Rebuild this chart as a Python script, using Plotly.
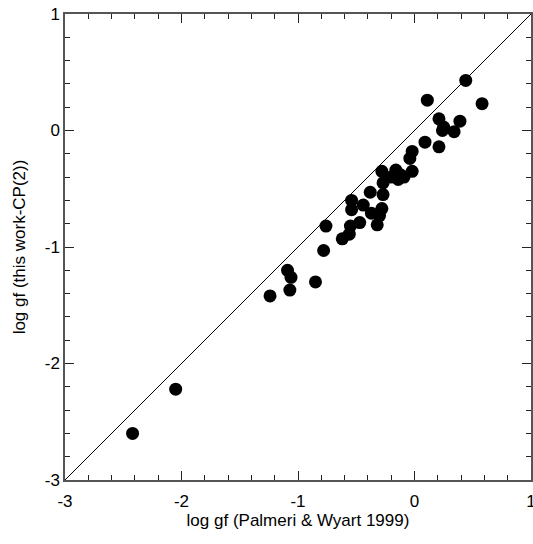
import plotly.graph_objects as go

palmeri_loggf = [-2.42, -2.05, -1.24, -1.09, -1.06, -1.07, -0.85, -0.78, -0.76, -0.62,
                 -0.56, -0.55, -0.47, -0.32, -0.54, -0.54, -0.44, -0.37, -0.28, -0.30,
                 -0.38, -0.27, -0.27, -0.28, -0.16, -0.14, -0.09, -0.02, -0.04, -0.02,
                 0.09, 0.21, 0.21, 0.25, 0.24, 0.34, 0.39, 0.44, 0.58, 0.11, -0.12, -0.20]
thiswork_loggf = [-2.60, -2.22, -1.42, -1.20, -1.26, -1.37, -1.30, -1.03, -0.82, -0.93,
                  -0.89, -0.82, -0.79, -0.81, -0.60, -0.68, -0.64, -0.71, -0.67, -0.73,
                  -0.53, -0.55, -0.45, -0.35, -0.34, -0.42, -0.40, -0.35, -0.24, -0.18,
                  -0.10, -0.14, 0.10, 0.03, 0.00, -0.01, 0.08, 0.43, 0.23, 0.26, -0.38, -0.40]
diag = [-3, 1]
tick_vals = [-3, -2, -1, 0, 1]

fig = go.Figure()
fig.add_trace(go.Scatter(x=diag, y=diag, mode="lines",
                         line=dict(color="black", width=1), hoverinfo="skip"))
fig.add_trace(go.Scatter(x=palmeri_loggf, y=thiswork_loggf, mode="markers",
                         marker=dict(color="black", size=13)))

axis_common = dict(
    range=[-3, 1], tickvals=tick_vals, ticktext=[str(v) for v in tick_vals],
    ticks="inside", ticklen=9, tickwidth=1, tickcolor="#222222",
    showline=True, linecolor="#555555", linewidth=1.5, mirror="allticks",
    showgrid=False, zeroline=False, ticklabeloverflow="allow",
    minor=dict(tickvals=[v / 5 for v in range(-15, 6)], ticks="inside", ticklen=5,
               tickwidth=1, tickcolor="#222222", showgrid=False),
    tickfont=dict(family="Liberation Sans, Arial, sans-serif", size=17, color="black"),
)

fig.update_layout(
    width=533, height=544,
    margin=dict(l=65, r=2, t=14, b=64, autoexpand=False),
    plot_bgcolor="white", paper_bgcolor="white",
    showlegend=False,
    font=dict(family="Liberation Sans, Arial, sans-serif", size=17, color="black"),
    xaxis=dict(**axis_common, ticklabelstandoff=5,
               title=dict(text="log gf (Palmeri & Wyart 1999)", standoff=3, font=dict(size=17))),
    yaxis=dict(**axis_common,
               title=dict(text="log gf (this work-CP(2))", standoff=15, font=dict(size=17))),
)
fig.write_html("out.html", config={"displayModeBar": False},
               post_script="document.body.style.margin='0';document.body.style.overflow='hidden';")
